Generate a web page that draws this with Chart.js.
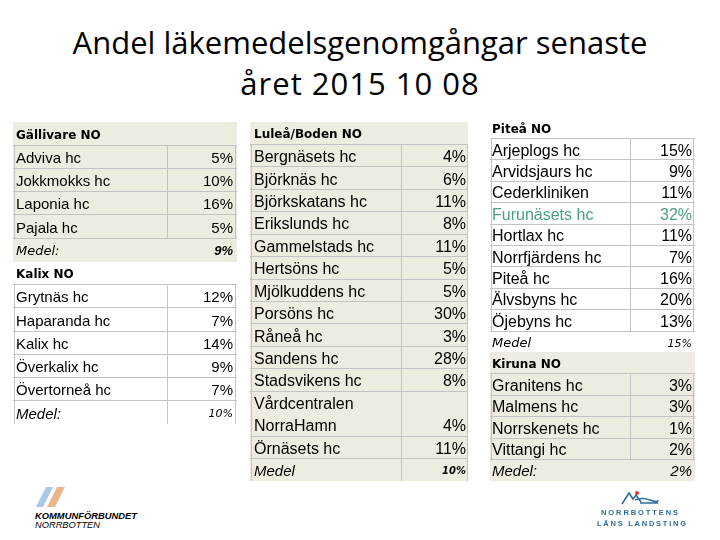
<!DOCTYPE html>
<html><head><meta charset="utf-8">
<script src="https://cdn.jsdelivr.net/npm/chart.js@4.4.1/dist/chart.umd.min.js"></script>
<style>
html,body{margin:0;padding:0;background:#fff;}
body{width:720px;height:540px;position:relative;overflow:hidden;}
.title{position:absolute;left:0;width:720px;text-align:center;font-family:"Open Sans",sans-serif;font-size:31px;line-height:40px;color:#000;white-space:nowrap;}
canvas{position:absolute;}
svg{position:absolute;}
</style></head><body>
<div class="title" style="top:22px">Andel läkemedelsgenomgångar senaste</div>
<div class="title" style="top:63px;letter-spacing:1px">året 2015 10 08</div>
<canvas id="cLeft" width="224" height="302" style="left:13px;top:122px"></canvas>
<canvas id="cMid" width="218" height="359" style="left:250px;top:122px"></canvas>
<canvas id="cRight" width="205" height="364" style="left:490px;top:117px"></canvas>
<svg style="left:0;top:480px" width="200" height="60">
  <polygon points="36,27 43,27 53,7 46,7" fill="#a9c8ea"/>
  <polygon points="47,27 55,27 65,7 57,7" fill="#ebb58a"/>
  <text x="35" y="39" font-family="Liberation Sans" font-weight="bold" font-style="italic" font-size="9.5" textLength="102" lengthAdjust="spacingAndGlyphs">KOMMUNFÖRBUNDET</text>
  <text x="35" y="48" font-family="Liberation Sans" font-style="italic" font-size="9.5" textLength="65" lengthAdjust="spacingAndGlyphs">NORRBOTTEN</text>
</svg>
<svg style="left:580px;top:480px" width="140" height="60">
  <path d="M42,24 L49,13 L53,19 L56,15 L61,22" fill="none" stroke="#2c6e9e" stroke-width="1.6"/>
  <path d="M55,20 Q62,17 70,20 T78,20 M60,23 L78,23" fill="none" stroke="#2c6e9e" stroke-width="1.4"/>
  <circle cx="57" cy="13" r="2" fill="#e2343a"/>
  <text x="21" y="35" font-family="Liberation Sans" font-weight="bold" font-size="7.5" fill="#2c6e9e" textLength="77" lengthAdjust="spacing">NORRBOTTENS</text>
  <text x="17" y="46" font-family="Liberation Sans" font-weight="bold" font-size="7.5" fill="#2c6e9e" textLength="89" lengthAdjust="spacing">LÄNS LANDSTING</text>
</svg>
<script>
// ---------- data ----------
const groupTitles = ['Gällivare NO', 'Kalix NO', 'Luleå/Boden NO', 'Piteå NO', 'Kiruna NO'];
const meanLabels = ['Medel:', 'Medel:', 'Medel', 'Medel', 'Medel:'];

const gallivareUnits = ['Adviva hc', 'Jokkmokks hc', 'Laponia hc', 'Pajala hc'];
const gallivarePct = [5, 10, 16, 5];
const gallivareMean = 9;

const kalixUnits = ['Grytnäs hc', 'Haparanda hc', 'Kalix hc', 'Överkalix hc', 'Övertorneå hc'];
const kalixPct = [12, 7, 14, 9, 7];
const kalixMean = 10;

const luleaUnits = ['Bergnäsets hc', 'Björknäs hc', 'Björkskatans hc', 'Erikslunds hc', 'Gammelstads hc',
  'Hertsöns hc', 'Mjölkuddens hc', 'Porsöns hc', 'Råneå hc', 'Sandens hc', 'Stadsvikens hc',
  'Vårdcentralen\nNorraHamn', 'Örnäsets hc'];
const luleaPct = [4, 6, 11, 8, 11, 5, 5, 30, 3, 28, 8, 4, 11];
const luleaMean = 10;

const piteaUnits = ['Arjeplogs hc', 'Arvidsjaurs hc', 'Cederkliniken', 'Furunäsets hc', 'Hortlax hc',
  'Norrfjärdens hc', 'Piteå hc', 'Älvsbyns hc', 'Öjebyns hc'];
const piteaPct = [15, 9, 11, 32, 11, 7, 16, 20, 13];
const piteaMean = 15;

const kirunaUnits = ['Granitens hc', 'Malmens hc', 'Norrskenets hc', 'Vittangi hc'];
const kirunaPct = [3, 3, 1, 2];
const kirunaMean = 2;

// ---------- styles ----------
const BEIGE = '#eeece1', LINE = '#c3c3c3', GREEN = '#49a27d', NONE = 'rgba(0,0,0,0)';
const SANS = '"Liberation Sans", Arial, sans-serif';
const VERD = '"DejaVu Sans", Verdana, sans-serif';
const headFont = {family: VERD, size: 12, weight: 'bold'};

const tables = [
  {canvas: 'cLeft', pad: [3, -4], cols: [0.003, 0.6875, 0.99], groups: [
    {title: groupTitles[0], names: gallivareUnits, values: gallivarePct, meanLabel: meanLabels[0], mean: gallivareMean,
     bg: BEIGE, size: 15, meanNameFont: {family: VERD, size: 13, style: 'italic'},
     meanValFont: {family: SANS, size: 13, style: 'italic', weight: 'bold'}, vMean: false},
    {title: groupTitles[1], names: kalixUnits, values: kalixPct, meanLabel: meanLabels[1], mean: kalixMean,
     bg: null, size: 15, meanNameFont: {family: SANS, size: 15, style: 'italic'},
     meanValFont: {family: VERD, size: 11, style: 'italic'}, vMean: true}
  ]},
  {canvas: 'cMid', pad: [4, -2], cols: [0.004, 0.693, 0.996], groups: [
    {title: groupTitles[2], names: luleaUnits, values: luleaPct, meanLabel: meanLabels[2], mean: luleaMean,
     bg: BEIGE, size: 16, meanNameFont: {family: SANS, size: 15, style: 'italic'},
     meanValFont: {family: VERD, size: 10, style: 'italic', weight: 'bold'}, vMean: true}
  ]},
  {canvas: 'cRight', pad: [2, -3], cols: [0.004, 0.683, 0.99], groups: [
    {title: groupTitles[3], names: piteaUnits, values: piteaPct, meanLabel: meanLabels[3], mean: piteaMean,
     bg: null, size: 16, highlight: 'Furunäsets hc', meanNameFont: {family: VERD, size: 13, style: 'italic'},
     meanValFont: {family: VERD, size: 11, style: 'italic'}, vMean: false},
    {title: groupTitles[4], names: kirunaUnits, values: kirunaPct, meanLabel: meanLabels[4], mean: kirunaMean,
     bg: BEIGE, size: 16, meanNameFont: {family: SANS, size: 15, style: 'italic'},
     meanValFont: {family: SANS, size: 15, style: 'italic'}, vMean: false}
  ]}
];

function buildRows(t) {
  const rows = [], hlines = new Set(), vspans = [];
  t.groups.forEach(g => {
    rows.push({label: g.title, val: '', font: headFont, vfont: headFont, bg: g.bg, color: '#000'});
    const first = rows.length;
    g.names.forEach((n, i) => {
      const parts = n.split('\n');
      const color = g.highlight === n ? GREEN : '#000';
      const f = {family: SANS, size: g.size};
      parts.forEach((p, k) => {
        if (k === 0) hlines.add(rows.length);
        rows.push({label: p, val: k === parts.length - 1 ? g.values[i] + '%' : '', font: f, vfont: f, bg: g.bg, color});
      });
    });
    hlines.add(rows.length);
    const lastData = rows.length - 1;
    rows.push({label: g.meanLabel, val: g.mean + '%', font: g.meanNameFont, vfont: g.meanValFont, bg: g.bg, color: '#000'});
    vspans.push([first, g.vMean ? rows.length - 1 : lastData]);
  });
  return {rows, hlines, vspans};
}

const vbordersPlugin = {
  id: 'vborders',
  afterDatasetsDraw(chart, args, opts) {
    const xs = chart.scales.x, ys = chart.scales.y, ctx = chart.ctx;
    const half = (ys.getPixelForValue(1) - ys.getPixelForValue(0)) / 2;
    ctx.save();
    ctx.strokeStyle = opts.color;
    ctx.lineWidth = 1;
    opts.spans.forEach(([a, b]) => {
      const top = Math.round(ys.getPixelForValue(a) - half) + 0.5;
      const bot = Math.round(ys.getPixelForValue(b) + half) + 0.5;
      opts.cols.forEach(c => {
        const x = Math.round(xs.getPixelForValue(c)) + 0.5;
        ctx.beginPath();
        ctx.moveTo(x, top);
        ctx.lineTo(x, bot);
        ctx.stroke();
      });
    });
    ctx.restore();
  }
};

function zeroFit(s) {
  s.width = 0;
  s.paddingTop = 0; s.paddingBottom = 0; s.paddingLeft = 0; s.paddingRight = 0;
}

function makeTable(t) {
  const {rows, hlines, vspans} = buildRows(t);
  const labels = rows.map(r => r.label);
  const vals = rows.map(r => r.val);
  return new Chart(document.getElementById(t.canvas), {
    type: 'bar',
    data: {labels, datasets: [{data: rows.map(() => 1), backgroundColor: rows.map(r => r.bg || NONE),
      barPercentage: 1, categoryPercentage: 1, borderWidth: 0, inflateAmount: 0.5}]},
    options: {
      indexAxis: 'y', responsive: false, animation: false, events: [],
      layout: {padding: 0},
      plugins: {legend: {display: false}, tooltip: {enabled: false},
        vborders: {spans: vspans, cols: t.cols, color: LINE}},
      scales: {
        x: {display: false, min: 0, max: 1},
        y: {position: 'left', offset: true, afterFit: zeroFit, border: {display: false},
          grid: {z: 1, offset: true, drawTicks: false, lineWidth: 1,
            color: c => (c.index !== undefined && hlines.has(c.index)) ? LINE : NONE},
          ticks: {z: 1, mirror: true, padding: t.pad[0], labelOffset: 2, autoSkip: false, crossAlign: 'near',
            font: c => (rows[c.index] || rows[0]).font, color: c => (rows[c.index] || rows[0]).color}},
        y2: {type: 'category', labels: vals, position: 'right', offset: true, afterFit: zeroFit,
          border: {display: false}, grid: {display: false, drawTicks: false},
          ticks: {z: 1, mirror: true, padding: t.pad[1], labelOffset: 2, autoSkip: false, crossAlign: 'near',
            font: c => (rows[c.index] || rows[0]).vfont, color: c => (rows[c.index] || rows[0]).color}}
      }
    },
    plugins: [vbordersPlugin]
  });
}

tables.forEach(makeTable);
</script>
</body></html>
